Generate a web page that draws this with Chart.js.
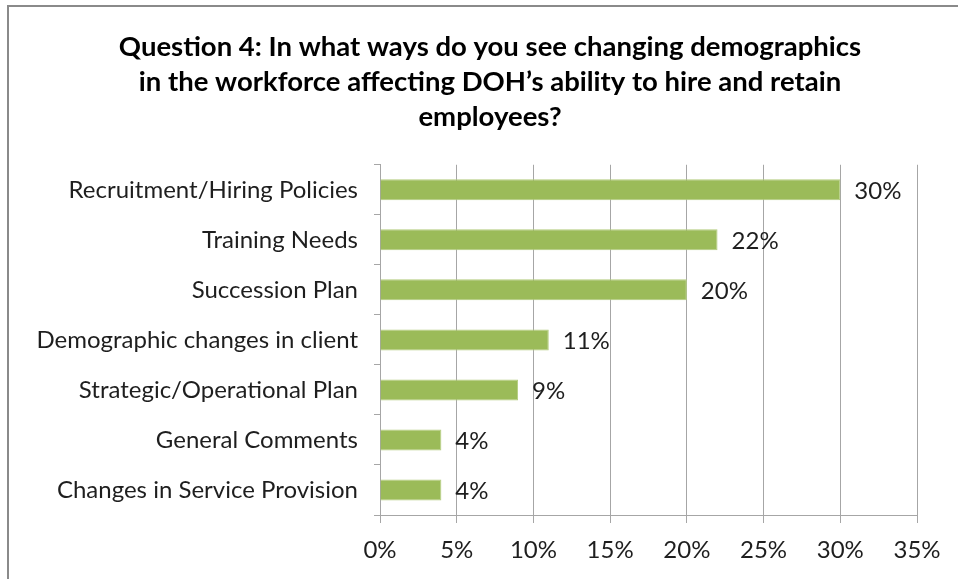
<!DOCTYPE html>
<html lang="en">
<head>
    <meta charset="UTF-8">
    <title>Question 4 - Changing demographics</title>
    <script src="https://cdn.jsdelivr.net/npm/chart.js"></script>
    <style>
        body {
            margin: 0;
            background-color: #ffffff;
        }
        #wrap {
            position: relative;
            width: 958px;
            height: 579px;
            overflow: hidden;
        }
        #frame {
            position: absolute;
            left: 7px;
            top: 5px;
            width: 1000px;
            height: 700px;
            border-left: 2px solid #8a8a8a;
            border-top: 2px solid #8a8a8a;
        }
        canvas {
            position: absolute;
            left: 0;
            top: 0;
        }
    </style>
</head>
<body>
    <div id="wrap">
        <div id="frame"></div>
        <canvas id="barChart" width="958" height="579"></canvas>
    </div>
    <script>
        const categories = [
            'Recruitment/Hiring Policies',
            'Training Needs',
            'Succession Plan',
            'Demographic changes in client',
            'Strategic/Operational Plan',
            'General Comments',
            'Changes in Service Provision'
        ];
        const percents = [30, 22, 20, 11, 9, 4, 4];
        const xTicks = [0, 5, 10, 15, 20, 25, 30, 35];

        const titleLines = [
            'Question 4: In what ways do you see changing demographics',
            'in the workforce affecting DOH\u2019s ability to hire and retain',
            'employees?'
        ];

        const gridGray = '#a6a6a6';
        const textDark = '#1e1e1e';

        // value labels to the right of each bar
        const valueLabels = {
            id: 'valueLabels',
            afterDatasetsDraw(chart) {
                const ctx = chart.ctx;
                const meta = chart.getDatasetMeta(0);
                ctx.save();
                ctx.font = '24px Lato';
                ctx.fillStyle = textDark;
                ctx.textAlign = 'left';
                ctx.textBaseline = 'middle';
                meta.data.forEach((bar, i) => {
                    ctx.fillText(percents[i] + '%', bar.x + 14, bar.y + 1);
                });
                ctx.restore();
            }
        };

        const ctx = document.getElementById('barChart').getContext('2d');
        new Chart(ctx, {
            type: 'bar',
            data: {
                labels: categories,
                datasets: [{
                    data: percents,
                    backgroundColor: '#9bbb59',
                    borderColor: '#b3cc7f',
                    borderWidth: 1,
                    categoryPercentage: 0.42,
                    barPercentage: 1
                }]
            },
            options: {
                indexAxis: 'y',
                responsive: false,
                animation: false,
                layout: {
                    padding: { left: 22, right: 0, top: 0, bottom: 0 }
                },
                scales: {
                    x: {
                        min: 0,
                        max: 35,
                        afterBuildTicks: s => {
                            s.ticks = xTicks.map(v => ({ value: v }));
                        },
                        afterFit: s => {
                            s.height = 64;
                            s.paddingRight = 41;
                        },
                        grid: {
                            color: gridGray,
                            lineWidth: 1,
                            tickLength: 8,
                            drawTicks: true
                        },
                        border: { color: gridGray, width: 1 },
                        ticks: {
                            color: textDark,
                            font: { family: 'Lato', size: 24 },
                            padding: 13,
                            maxRotation: 0,
                            callback: v => v + '%'
                        }
                    },
                    y: {
                        afterFit: s => {
                            s.width = 358;
                        },
                        grid: {
                            offset: true,
                            drawOnChartArea: false,
                            color: gridGray,
                            tickLength: 6
                        },
                        border: { color: gridGray, width: 1 },
                        ticks: {
                            color: textDark,
                            font: { family: 'Lato', size: 24 },
                            padding: 16
                        }
                    }
                },
                plugins: {
                    legend: { display: false },
                    tooltip: { enabled: false },
                    title: {
                        display: true,
                        text: titleLines,
                        color: '#000000',
                        font: { family: 'Lato', size: 27.5, weight: 'bold', lineHeight: 1.27 },
                        padding: { top: 30, bottom: 30 }
                    }
                }
            },
            plugins: [valueLabels]
        });
    </script>
</body>
</html>
